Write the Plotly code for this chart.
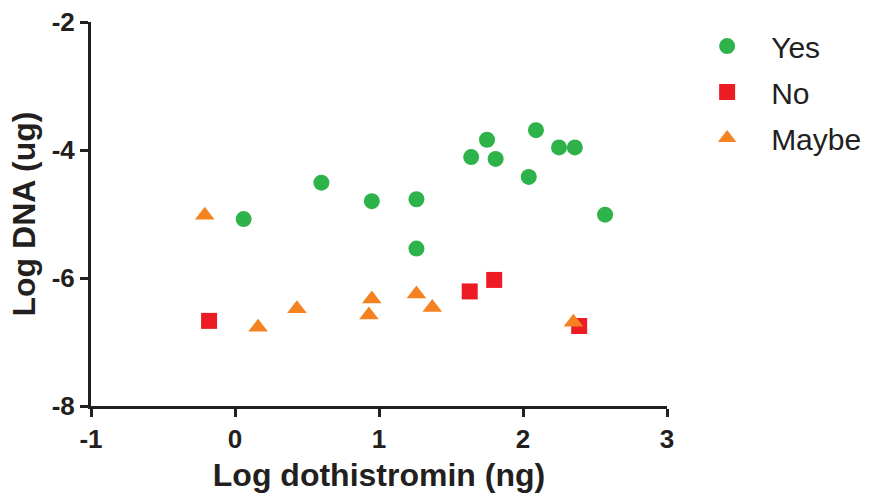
import plotly.graph_objects as go

# Log dothistromin (ng) vs Log DNA (ug), grouped by response
yes_x = [0.06, 0.60, 0.95, 1.26, 1.26, 1.64, 1.75, 1.81, 2.04, 2.09, 2.25, 2.36, 2.57]
yes_y = [-5.08, -4.51, -4.80, -4.77, -5.54, -4.11, -3.84, -4.14, -4.42, -3.69, -3.96, -3.96, -5.01]

no_x = [-0.18, 1.63, 1.80, 2.39]
no_y = [-6.67, -6.21, -6.03, -6.75]

maybe_x = [-0.21, 0.16, 0.43, 0.93, 0.95, 1.26, 1.37, 2.35]
maybe_y = [-5.02, -6.77, -6.48, -6.58, -6.33, -6.25, -6.46, -6.69]

x_ticks = [-1, 0, 1, 2, 3]
y_ticks = [-8, -6, -4, -2]

GREEN = "#2DB34A"
RED = "#ED1C24"
ORANGE = "#F58220"
INK = "#231F20"
FONT = "Liberation Sans, Arial, sans-serif"

fig = go.Figure()
fig.add_trace(go.Scatter(x=yes_x, y=yes_y, mode="markers", name="Yes", legendgroup="a",
                         marker=dict(symbol="circle", size=16, color=GREEN)))
fig.add_trace(go.Scatter(x=no_x, y=no_y, mode="markers", name="No", legendgroup="b",
                         marker=dict(symbol="square", size=16, color=RED)))
fig.add_trace(go.Scatter(x=maybe_x, y=maybe_y, mode="markers", name="Maybe", legendgroup="c",
                         marker=dict(symbol="triangle-up", size=17, color=ORANGE)))

axis_common = dict(
    showgrid=False, zeroline=False, showline=True, linecolor=INK, linewidth=3,
    ticks="outside", ticklen=8, tickwidth=3, tickcolor=INK,
    tickfont=dict(family=FONT, size=26, color=INK, weight="bold"),
)

fig.update_layout(
    width=872, height=503,
    margin=dict(l=91, r=205, t=22, b=97, autoexpand=False),
    paper_bgcolor="white", plot_bgcolor="white",
    font=dict(family=FONT, color=INK),
    xaxis=dict(range=[-1, 3], tickvals=x_ticks, ticktext=[f"<b>{v}</b>" for v in x_ticks],
               title=dict(text="<b>Log dothistromin (ng)</b>", font=dict(size=32), standoff=11),
               **axis_common),
    yaxis=dict(range=[-8, -2], tickvals=y_ticks, ticktext=[f"<b>{v}</b>" for v in y_ticks],
               title=dict(text="<b>Log DNA (ug)</b>", font=dict(size=32), standoff=7),
               **axis_common),
    legend=dict(x=1.028, y=1.005, xanchor="left", yanchor="top",
                font=dict(size=30, color=INK), tracegroupgap=4, itemwidth=78,
                bgcolor="rgba(0,0,0,0)"),
    showlegend=True,
)

fig.write_html("out.html")
